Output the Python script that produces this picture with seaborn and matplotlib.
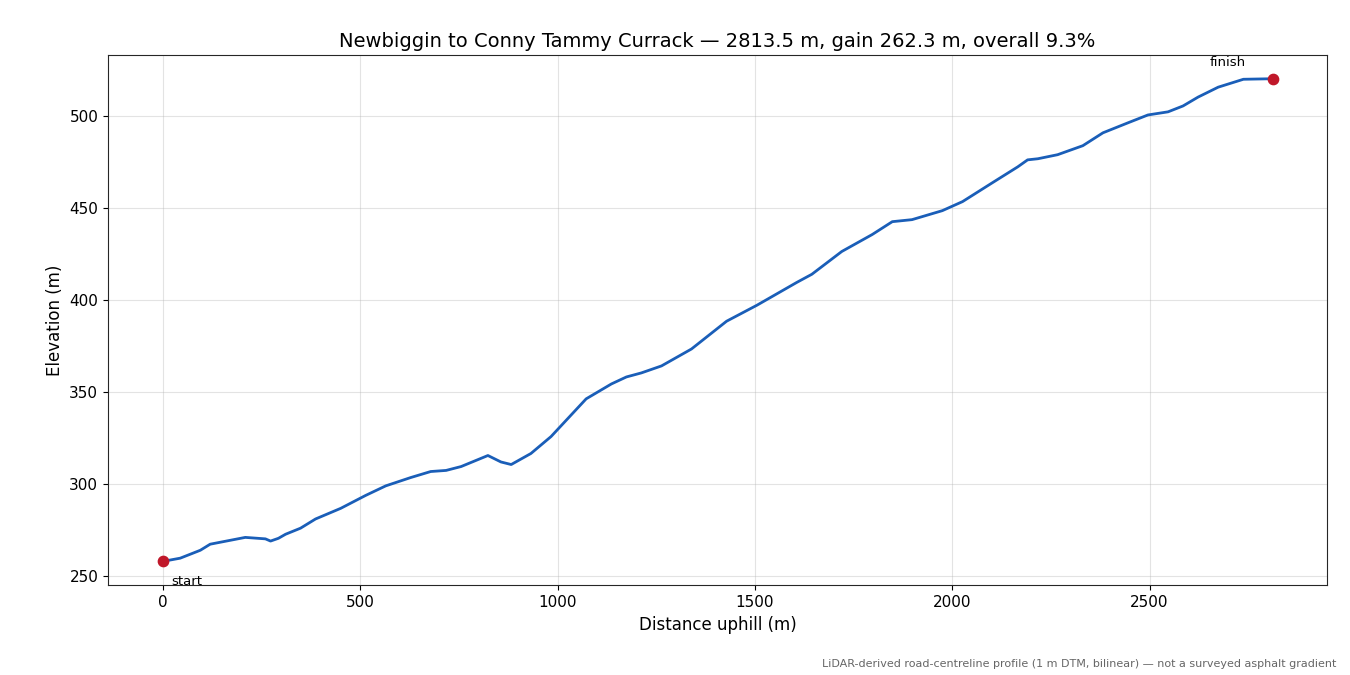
import matplotlib
matplotlib.use("Agg")
import matplotlib.pyplot as plt
import seaborn as sns
import pandas as pd

# profile points
distance = [0, 43, 94, 119, 208, 259, 272, 292, 310, 348, 386, 450, 513, 564, 627, 678,
            717, 755, 823, 856, 882, 932, 983, 1072, 1136, 1174, 1212, 1263, 1339, 1428,
            1505, 1606, 1644, 1720, 1797, 1848, 1898, 1975, 2026, 2102, 2166, 2191, 2217,
            2267, 2331, 2382, 2445, 2496, 2547, 2585, 2623, 2674, 2738, 2813.5]
elevation = [258.0, 259.7, 264.0, 267.3, 271.0, 270.2, 269.0, 270.5, 272.7, 276.0, 281.0,
             286.8, 293.8, 299.0, 303.5, 306.8, 307.4, 309.5, 315.5, 312.0, 310.6, 316.6,
             325.8, 346.3, 354.4, 358.2, 360.4, 364.2, 373.4, 388.5, 397.2, 409.6, 414.0,
             426.4, 435.6, 442.6, 443.7, 448.6, 453.5, 463.8, 472.4, 476.2, 476.8, 479.0,
             483.9, 490.9, 496.3, 500.6, 502.3, 505.5, 510.3, 515.7, 520.0, 520.3]

df = pd.DataFrame({"d": distance, "e": elevation})

sns.set_style("ticks")
plt.rcParams['font.family'] = ['DejaVu Sans']
plt.rcParams['text.color'] = 'black'
plt.rcParams['axes.labelcolor'] = 'black'
plt.rcParams['xtick.color'] = 'black'
plt.rcParams['ytick.color'] = 'black'
fig, ax = plt.subplots(figsize=(13.5, 6.75), dpi=100)

sns.lineplot(data=df, x="d", y="e", ax=ax, color="#1a5eb8", linewidth=2)
ends = df.iloc[[0, -1]]
ax.scatter(ends["d"], ends["e"], color="#c0182a", s=55, zorder=5)
ax.annotate("start", (distance[0], elevation[0]), xytext=(6, -17),
            textcoords="offset points", fontsize=9.5)
ax.annotate("finish", (distance[-1], elevation[-1]), xytext=(-46, 9),
            textcoords="offset points", fontsize=9.5)

ax.set_xlim(-140, 2950)
ax.set_ylim(245, 533)
ax.grid(True, color="#b0b0b0", alpha=0.35)
ax.tick_params(labelsize=11)
ax.set_xlabel("Distance uphill (m)", fontsize=12)
ax.set_ylabel("Elevation (m)", fontsize=12)
ax.set_title("Newbiggin to Conny Tammy Currack — 2813.5 m, gain 262.3 m, overall 9.3%",
             fontsize=14)
fig.text(0.99, 0.012, "LiDAR-derived road-centreline profile (1 m DTM, bilinear) — not a surveyed asphalt gradient",
         ha="right", fontsize=8, color="#666666")
fig.subplots_adjust(left=0.08, right=0.983, top=0.918, bottom=0.133)
fig.savefig("out.png", dpi=100)
